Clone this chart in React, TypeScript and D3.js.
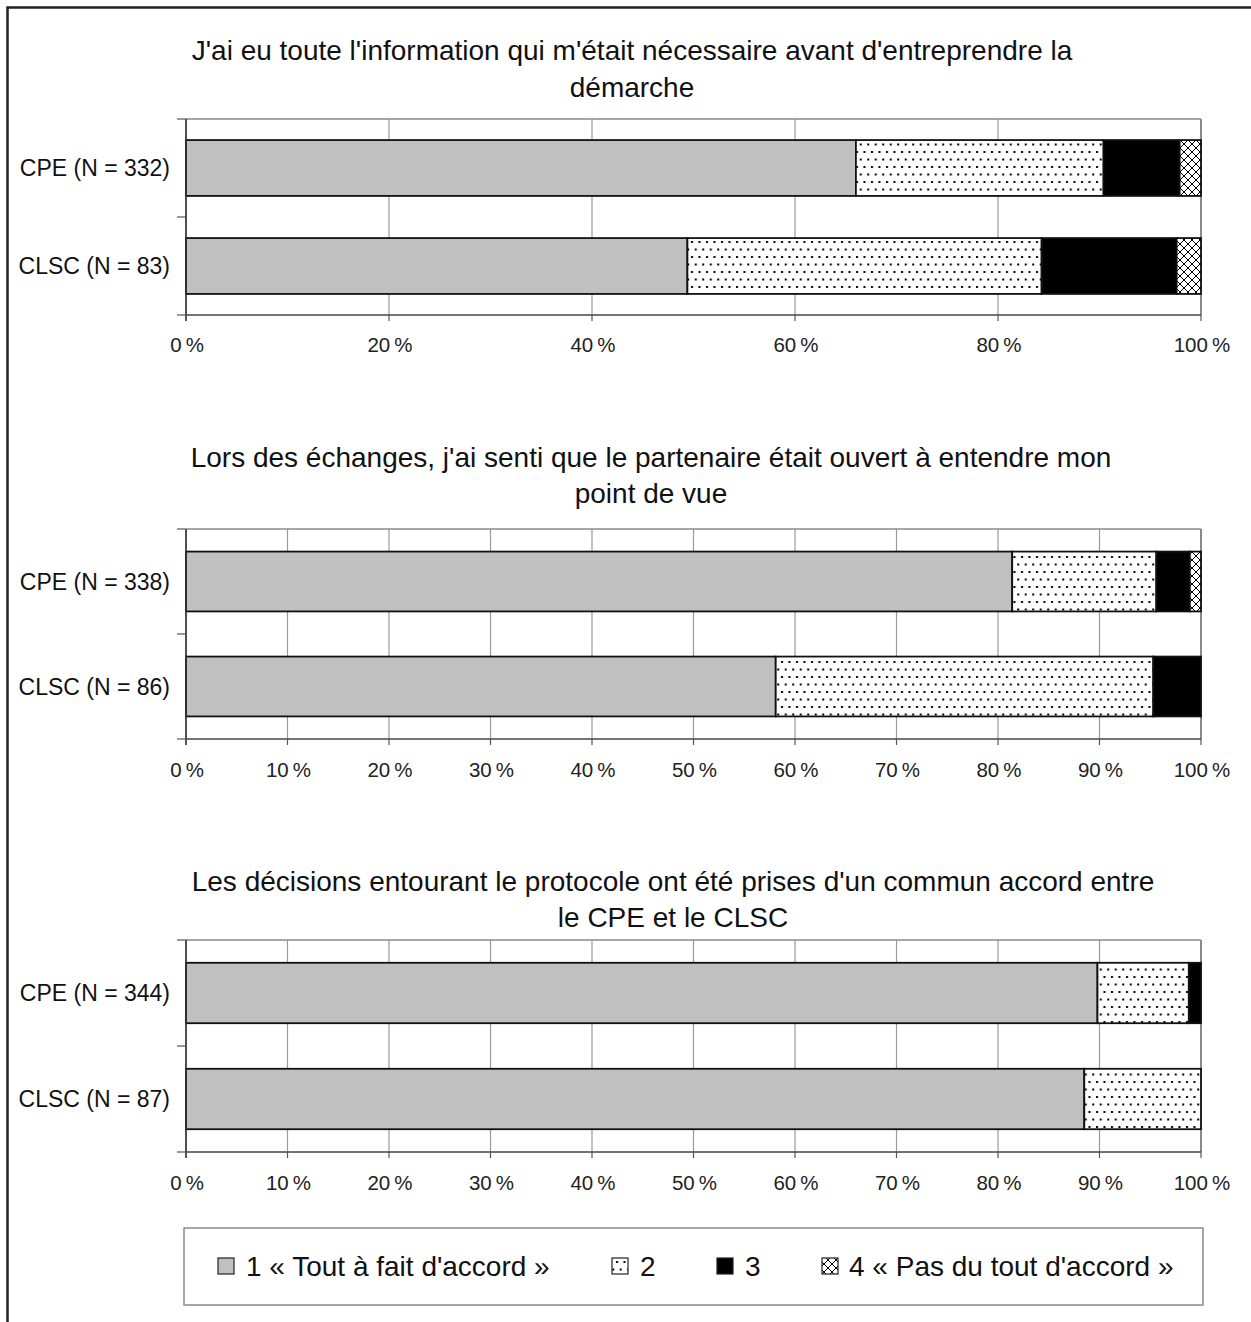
import React from "react";
import * as d3 from "d3";

// ---------- DATA ----------
const titles: string[][] = [
  ["J'ai eu toute l'information qui m'était nécessaire avant d'entreprendre la", "démarche"],
  ["Lors des échanges, j'ai senti que le partenaire était ouvert à entendre mon", "point de vue"],
  ["Les décisions entourant le protocole ont été prises d'un commun accord entre", "le CPE et le CLSC"],
];
const groupLabels: string[][] = [
  ["CPE (N = 332)", "CLSC (N = 83)"],
  ["CPE (N = 338)", "CLSC (N = 86)"],
  ["CPE (N = 344)", "CLSC (N = 87)"],
];
const seriesNames = ["1 « Tout à fait d'accord »", "2", "3", "4 « Pas du tout d'accord »"];
// percentages per series (1,2,3,4)
const q1CPE = [66.0, 24.4, 7.5, 2.1];
const q1CLSC = [49.4, 34.9, 13.3, 2.4];
const q2CPE = [81.4, 14.2, 3.3, 1.1];
const q2CLSC = [58.1, 37.2, 4.7, 0];
const q3CPE = [89.8, 9.0, 1.2, 0];
const q3CLSC = [88.5, 11.5, 0, 0];
const panelValues = [
  [q1CPE, q1CLSC],
  [q2CPE, q2CLSC],
  [q3CPE, q3CLSC],
];
const ticks20 = [0, 20, 40, 60, 80, 100];
const ticks10 = [0, 10, 20, 30, 40, 50, 60, 70, 80, 90, 100];
const panelTicks = [ticks20, ticks10, ticks10];

// ---------- LAYOUT ----------
const W = 1251;
const H = 1322;
const plotLeft = 186;
const plotRight = 1201;
const panels = [
  { top: 119, bottom: 315, titleX: 632, titleY: [60, 97], tickY: 352 },
  { top: 529, bottom: 739, titleX: 651, titleY: [467, 503], tickY: 777 },
  { top: 940, bottom: 1152, titleX: 673, titleY: [891, 927], tickY: 1190 },
];
const fills = ["#c0c0c0", "url(#dots)", "#000000", "url(#cross)"];
const FONT = "'Liberation Sans', Arial, Helvetica, sans-serif";

const x = d3.scaleLinear().domain([0, 100]).range([plotLeft, plotRight]);

function Panel({ idx }: { idx: number }) {
  const p = panels[idx];
  const cats = groupLabels[idx];
  const y = d3.scaleBand<string>().domain(cats).range([p.top, p.bottom]).paddingInner(0.43).paddingOuter(0.215);
  const band = d3.scaleBand<string>().domain(cats).range([p.top, p.bottom]);
  const ticks = panelTicks[idx];
  return (
    <g>
      {titles[idx].map((t, i) => (
        <text key={i} x={p.titleX} y={p.titleY[i]} textAnchor="middle" fontSize={28} fill="#111">
          {t}
        </text>
      ))}
      {/* gridlines */}
      {ticks.map((t) => (
        <line key={t} x1={x(t)} x2={x(t)} y1={p.top} y2={p.bottom} stroke="#9a9a9a" strokeWidth={1.2} />
      ))}
      {/* plot border top/right */}
      <line x1={plotLeft} x2={plotRight} y1={p.top} y2={p.top} stroke="#8a8a8a" strokeWidth={1.5} />
      <line x1={plotRight} x2={plotRight} y1={p.top} y2={p.bottom} stroke="#8a8a8a" strokeWidth={2} />
      {/* bars */}
      {cats.map((c, ci) => {
        const vals = panelValues[idx][ci];
        let acc = 0;
        return (
          <g key={c}>
            {vals.map((v, si) => {
              const x0 = x(acc);
              acc += v;
              if (v <= 0) return null;
              const x1 = x(Math.min(acc, 100));
              return (
                <rect
                  key={si}
                  x={x0}
                  y={y(c)!}
                  width={x1 - x0}
                  height={y.bandwidth()}
                  fill={fills[si]}
                  stroke="#111"
                  strokeWidth={1.8}
                />
              );
            })}
          </g>
        );
      })}
      {/* y axis */}
      <line x1={plotLeft} x2={plotLeft} y1={p.top} y2={p.bottom + 6} stroke="#333" strokeWidth={1.6} />
      {[p.top, band(cats[1])!, p.bottom].map((yy, i) => (
        <line key={i} x1={plotLeft - 9} x2={plotLeft} y1={yy} y2={yy} stroke="#555" strokeWidth={1.2} />
      ))}
      {/* x axis */}
      <line x1={plotLeft} x2={plotRight} y1={p.bottom} y2={p.bottom} stroke="#444" strokeWidth={1.6} />
      {ticks.map((t) => (
        <line key={t} x1={x(t)} x2={x(t)} y1={p.bottom} y2={p.bottom + 6} stroke="#555" strokeWidth={1.2} />
      ))}
      {ticks.map((t) => (
        <text key={t} x={x(t) + 1} y={p.tickY} textAnchor="middle" fontSize={20.5} fill="#222">
          {`${t}\u2009%`}
        </text>
      ))}
      {/* category labels */}
      {cats.map((c) => (
        <text key={c} x={170} y={y(c)! + y.bandwidth() / 2} dy="0.36em" textAnchor="end" fontSize={23} fill="#111">
          {c}
        </text>
      ))}
    </g>
  );
}

export default function App() {
  const legendItems = [
    { sx: 218, tx: 246 },
    { sx: 612, tx: 640 },
    { sx: 717, tx: 745 },
    { sx: 822, tx: 849 },
  ];
  return (
    <svg
      width={W}
      height={H}
      style={{ position: "absolute", left: 0, top: 0, background: "#fff" }}
      fontFamily={FONT}
    >
      <defs>
        <pattern id="dots" patternUnits="userSpaceOnUse" width={7.5} height={15}>
          <rect width={7.5} height={15} fill="#fff" />
          <rect x={1} y={1} width={2} height={2} fill="#000" />
          <rect x={4.75} y={8.5} width={2} height={2} fill="#000" />
        </pattern>
        <pattern id="cross" patternUnits="userSpaceOnUse" width={8} height={8}>
          <rect width={8} height={8} fill="#fff" />
          <path d="M0,0 L8,8 M8,0 L0,8" stroke="#000" strokeWidth={1} />
        </pattern>
      </defs>
      <rect x={0} y={0} width={W} height={H} fill="#fff" />
      {/* outer frame */}
      <rect x={7.5} y={7.5} width={W + 50} height={H + 50} fill="none" stroke="#222" strokeWidth={2.5} />
      {panels.map((_, i) => (
        <Panel key={i} idx={i} />
      ))}
      {/* legend */}
      <rect x={184} y={1228} width={1019} height={77} fill="#fff" stroke="#8a8a8a" strokeWidth={1.5} />
      {seriesNames.map((s, i) => (
        <g key={s}>
          <rect
            x={legendItems[i].sx}
            y={1258}
            width={16}
            height={16}
            fill={fills[i]}
            stroke="#222"
            strokeWidth={1.2}
          />
          <text x={legendItems[i].tx} y={1276} fontSize={28} fill="#111">
            {s}
          </text>
        </g>
      ))}
    </svg>
  );
}
